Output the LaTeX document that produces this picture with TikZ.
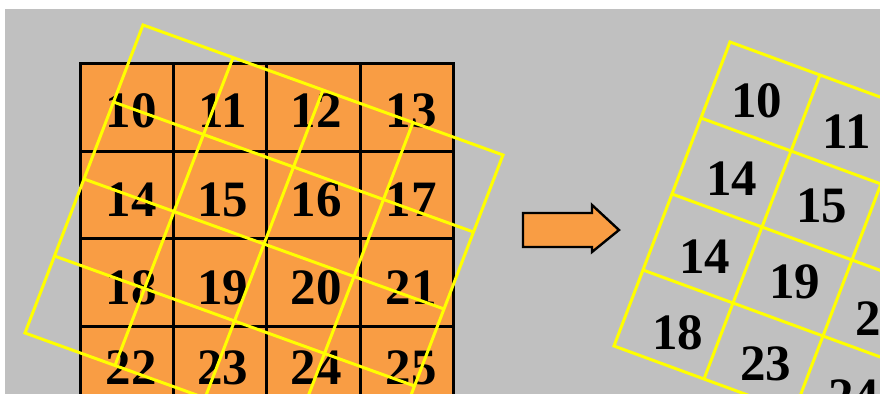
\documentclass[tikz,border=0pt]{standalone}
\usepackage{fontspec}
\setmainfont{Liberation Serif}
\usepackage{tikz}
\usetikzlibrary{positioning}
\definecolor{figFondo}{RGB}{192,192,192}
\definecolor{figNaranja}{RGB}{249,157,68}
\definecolor{figAmarillo}{RGB}{255,255,0}
\tikzset{
  celda/.style={draw=black, line width=1.5pt},
  rejilla/.style={draw=figAmarillo, line width=1.5pt, line join=miter},
  numero/.style={inner sep=0pt, font=\fontsize{25.5}{26}\selectfont\bfseries, text=black},
  flechabloque/.style={draw=black, fill=figNaranja, line width=1.2pt, line join=miter}
}

\begin{document}
\begin{tikzpicture}[x=0.5pt, y=-0.5pt]
  \useasboundingbox (0,0) rectangle (880,394);
  \fill[white] (0,0) rectangle (880,394);
  \fill[figFondo] (5,9) rectangle (880,394);
  \clip (5,9) rectangle (880,394);

  % tabla original
  \fill[figNaranja] (80,64) rectangle (453,420);
  \draw[celda] (80,64) rectangle (453,415);
  \draw[celda] (173,64) -- (173,415);
  \draw[celda] (266,64) -- (266,415);
  \draw[celda] (360,64) -- (360,415);
  \draw[celda] (80,152) -- (453,152);
  \draw[celda] (80,239) -- (453,239);
  \draw[celda] (80,327) -- (453,327);

  \node[numero] (o10) at (131,111) {10};
  \node[numero] (o11) at (223,111) {11};
  \node[numero] (o12) at (316,111) {12};
  \node[numero] (o13) at (411,111) {13};
  \node[numero] (o14) at (131,200) {14};
  \node[numero] (o15) at (223,200) {15};
  \node[numero] (o16) at (316,200) {16};
  \node[numero] (o17) at (411,200) {17};
  \node[numero] (o18) at (131,288) {18};
  \node[numero] (o19) at (223,288) {19};
  \node[numero] (o20) at (316,288) {20};
  \node[numero] (o21) at (411,288) {21};
  \node[numero] (o22) at (131,368) {22};
  \node[numero] (o23) at (223,368) {23};
  \node[numero] (o24) at (316,368) {24};
  \node[numero] (o25) at (411,368) {25};

  % rejilla girada sobre la tabla
  \begin{scope}[shift={(143,25)}, x={(45pt,-16.25pt)}, y={(-14.75pt,-38.5pt)}]
    \draw[rejilla] (0,0) -- (4,0) -- (4,4) -- (0,4) -- cycle;
    \draw[rejilla] (1,0) -- (1,4);
    \draw[rejilla] (2,0) -- (2,4);
    \draw[rejilla] (3,0) -- (3,4);
    \draw[rejilla] (0,1) -- (4,1);
    \draw[rejilla] (0,2) -- (4,2);
    \draw[rejilla] (0,3) -- (4,3);
  \end{scope}

  \draw[flechabloque] (523,213) -- (592,213) -- (592,205) -- (619,230)
    -- (592,252) -- (592,247) -- (523,247) -- cycle;

  % resultado muestreado
  \begin{scope}[shift={(730,42)}, x={(45pt,-16.5pt)}, y={(-14.5pt,-38pt)}]
    \draw[rejilla] (0,0) -- (4,0) -- (4,4) -- (0,4) -- cycle;
    \draw[rejilla] (1,0) -- (1,4);
    \draw[rejilla] (2,0) -- (2,4);
    \draw[rejilla] (3,0) -- (3,4);
    \draw[rejilla] (0,1) -- (4,1);
    \draw[rejilla] (0,2) -- (4,2);
    \draw[rejilla] (0,3) -- (4,3);
    \node[numero, xshift=-2pt, yshift=-2pt] (r10) at (0.5,0.5) {10};
    \node[numero, xshift=-2pt, yshift=-1pt] (r11) at (1.5,0.5) {11};
    \node[numero, yshift=-3pt] (r14a) at (0.5,1.5) {14};
    \node[numero] (r15) at (1.5,1.5) {15};
    \node[numero, xshift=1pt, yshift=-4pt] (r14b) at (0.5,2.5) {14};
    \node[numero, xshift=1pt] (r19) at (1.5,2.5) {19};
    \node[numero, xshift=-1pt, yshift=-2pt] (r20) at (2.5,2.5) {20};
    \node[numero, xshift=2pt, yshift=-4pt] (r18) at (0.5,3.5) {18};
    \node[numero, xshift=1pt, yshift=-3pt] (r23) at (1.5,3.5) {23};
    \node[numero, yshift=-3pt] (r24) at (2.5,3.5) {24};
  \end{scope}
\end{tikzpicture}
\end{document}
